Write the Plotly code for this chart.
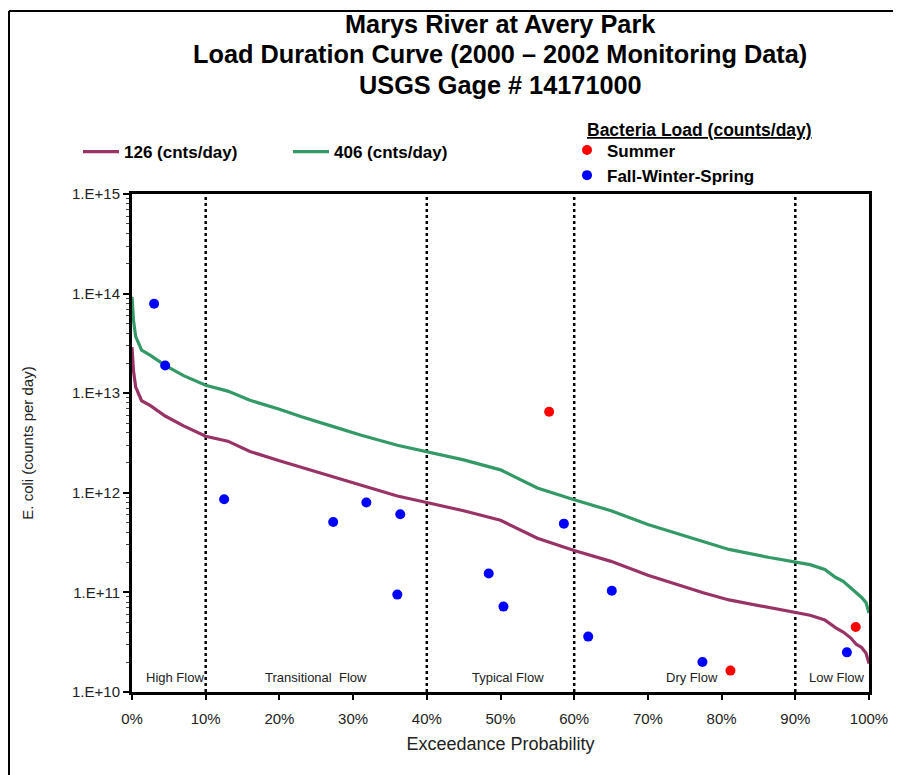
import plotly.graph_objects as go

# ---- data ----
curve_pct = [0, 0.2, 0.5, 1.3, 2.5, 4.5, 7, 10, 13, 16, 20, 23, 27, 31, 36, 40, 45, 50, 55, 60,
             65, 70, 73, 77.5, 81, 86.5, 90, 92, 94, 95.5, 96.5, 97.5, 98.3, 99, 99.6, 100]
load_406 = [9.3e13, 5.4e13, 3.7e13, 2.7e13, 2.4e13, 1.9e13, 1.5e13, 1.2e13, 1.05e13, 8.5e12,
            6.9e12, 5.8e12, 4.7e12, 3.8e12, 3.0e12, 2.57e12, 2.14e12, 1.7e12, 1.12e12, 8.5e11,
            6.6e11, 4.8e11, 4.1e11, 3.2e11, 2.7e11, 2.24e11, 2.04e11, 1.9e11, 1.7e11, 1.41e11,
            1.29e11, 1.12e11, 9.8e10, 8.9e10, 7.9e10, 6.2e10]
load_126 = [2.9e13, 1.68e13, 1.15e13, 8.4e12, 7.5e12, 5.9e12, 4.7e12, 3.7e12, 3.3e12, 2.6e12,
            2.1e12, 1.8e12, 1.46e12, 1.18e12, 9.3e11, 8.0e11, 6.6e11, 5.3e11, 3.5e11, 2.64e11,
            2.05e11, 1.49e11, 1.27e11, 9.9e10, 8.4e10, 7.0e10, 6.3e10, 5.9e10, 5.3e10, 4.4e10,
            4.0e10, 3.5e10, 3.0e10, 2.8e10, 2.45e10, 1.93e10]

fws_pct = [3.0, 4.5, 12.5, 27.3, 31.8, 36.4, 36.0, 48.4, 50.4, 58.6, 61.9, 65.1, 77.4, 97.0]
fws_load = [7.9e13, 1.9e13, 8.6e11, 5.1e11, 8.0e11, 6.1e11, 9.5e10, 1.55e11, 7.2e10, 4.9e11,
            3.6e10, 1.04e11, 2.0e10, 2.5e10]
summer_pct = [56.6, 81.2, 98.2]
summer_load = [6.5e12, 1.64e10, 4.5e10]

zone_names = ["High Flow", "Transitional  Flow", "Typical Flow", "Dry Flow", "Low Flow"]
zone_label_pct = [5.8, 25.0, 51.0, 76.0, 95.6]
zone_bounds_pct = [10, 40, 60, 90]

title_lines = ["Marys River at Avery Park",
               "Load Duration Curve (2000 – 2002 Monitoring Data)",
               "USGS Gage # 14171000"]

y_tick_vals = [1e10, 1e11, 1e12, 1e13, 1e14, 1e15]
y_tick_text = ["1.E+10", "1.E+11", "1.E+12", "1.E+13", "1.E+14", "1.E+15"]

FONT = "Arial, Liberation Sans, sans-serif"

# page has an 8px body margin; figure is sized to fit the 901x775 window
W, H = 893, 767
OFF = 8
L, R, T, B = 132 - OFF, 32, 194 - OFF, 83
PW = W - L - R          # plot width in px
PH = H - T - B          # plot height in px


def px_x(page_x):
    return (page_x - OFF - L) / PW


def px_y(page_y):
    return (H - B - (page_y - OFF)) / PH


def frac(v):
    return [p / 100 for p in v]


fig = go.Figure()
fig.add_trace(go.Scatter(x=frac(curve_pct), y=load_126, mode="lines", name="126 (cnts/day)",
                         line=dict(color="#993366", width=3.2), legend="legend"))
fig.add_trace(go.Scatter(x=frac(curve_pct), y=load_406, mode="lines", name="406 (cnts/day)",
                         line=dict(color="#339966", width=3.2), legend="legend"))
fig.add_trace(go.Scatter(x=frac(summer_pct), y=summer_load, mode="markers", name="Summer",
                         marker=dict(color="#FF0000", size=10), legend="legend2"))
fig.add_trace(go.Scatter(x=frac(fws_pct), y=fws_load, mode="markers", name="Fall-Winter-Spring",
                         marker=dict(color="#0000FF", size=10), legend="legend2"))

shapes = []
for b in zone_bounds_pct:
    shapes.append(dict(type="line", xref="x", yref="paper", x0=b / 100, x1=b / 100, y0=0, y1=1,
                       line=dict(color="black", width=2.5, dash="dot"), layer="below"))
# outer chart border (left and top)
shapes.append(dict(type="line", xref="paper", yref="paper", x0=px_x(9), x1=px_x(9),
                   y0=px_y(800), y1=px_y(11), line=dict(color="black", width=2)))
shapes.append(dict(type="line", xref="paper", yref="paper", x0=px_x(9), x1=px_x(920),
                   y0=px_y(11), y1=px_y(11), line=dict(color="black", width=2)))

annotations = []
for line_text, cy in zip(title_lines, [24, 54, 85]):
    annotations.append(dict(x=px_x(500), y=px_y(cy), xref="paper", yref="paper",
                            text="<b>" + line_text + "</b>", showarrow=False,
                            xanchor="center", yanchor="middle",
                            font=dict(family=FONT, size=25.3, color="black")))
for name, p in zip(zone_names, zone_label_pct):
    annotations.append(dict(x=p / 100, y=px_y(677), xref="x", yref="paper", text=name,
                            showarrow=False, yanchor="middle",
                            font=dict(family=FONT, size=13, color="#222222")))
annotations.append(dict(x=px_x(585), y=px_y(130), xref="paper", yref="paper",
                        text="<b><u>Bacteria Load (counts/day)</u></b>", showarrow=False,
                        xanchor="left", yanchor="middle",
                        font=dict(family=FONT, size=17.5, color="black")))

minor_vals = []
for d in range(10, 15):
    for m in range(2, 10):
        minor_vals.append(m * 10 ** d)

fig.update_layout(
    width=W, height=H,
    margin=dict(l=L, r=R, t=T, b=B),
    paper_bgcolor="white", plot_bgcolor="white",
    font=dict(family=FONT, color="black"),
    shapes=shapes,
    annotations=annotations,
    legend=dict(orientation="h", x=px_x(78), y=px_y(152), xanchor="left",
                yanchor="middle", font=dict(family=FONT, size=17, color="black", weight="bold"),
                bgcolor="rgba(0,0,0,0)", itemwidth=36, traceorder="normal", entrywidth=159),
    legend2=dict(orientation="v", x=px_x(567), y=px_y(163), xanchor="left",
                 yanchor="middle", font=dict(family=FONT, size=17, color="black", weight="bold"),
                 bgcolor="rgba(0,0,0,0)", tracegroupgap=0, itemwidth=30),
    xaxis=dict(range=[0, 1], tickformat=".0%", tick0=0, dtick=0.1, showgrid=False, zeroline=False,
               showline=True, linecolor="black", linewidth=3, mirror=True,
               ticks="outside", ticklen=5, tickwidth=1.5, tickcolor="black",
               ticklabelstandoff=6,
               tickfont=dict(family=FONT, size=15, color="#222222"),
               title=dict(text="Exceedance Probability", standoff=12,
                          font=dict(family=FONT, size=18, color="#222222"))),
    yaxis=dict(type="log", range=[10, 15], tickvals=y_tick_vals, ticktext=y_tick_text,
               showgrid=False, zeroline=False,
               showline=True, linecolor="black", linewidth=3, mirror=True,
               ticks="outside", ticklen=6, tickwidth=1.5, tickcolor="black",
               minor=dict(tickvals=minor_vals, ticks="outside", ticklen=3, tickwidth=1,
                          tickcolor="#444444", showgrid=False),
               tickfont=dict(family=FONT, size=15, color="#222222"),
               title=dict(text="E. coli (counts per day)", standoff=35,
                          font=dict(family=FONT, size=15, color="#222222"))),
)

fig.write_html("out.html")
